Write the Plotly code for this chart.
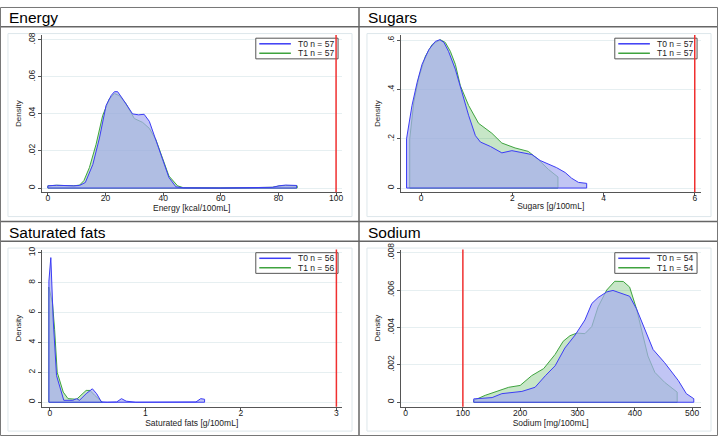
import plotly.graph_objects as go

# ---------------- data ----------------
panel_titles = ["Energy", "Sugars", "Saturated fats", "Sodium"]
x_titles = ["Energy [kcal/100mL]", "Sugars [g/100mL]", "Saturated fats [g/100mL]", "Sodium [mg/100mL]"]
legend_n = [57, 57, 56, 54]
limits = [100, 6, 3, 100]

energy_t0_x = [0, 3, 6, 9, 11, 13, 15.6, 17.9, 20.2, 22, 23.1, 24.2, 26, 29.4, 31.5, 33.4, 35.2, 36.9, 39.8, 42, 44.4, 47, 60, 74, 77.9, 80.2, 82.5, 86.3]
energy_t0_y = [0.0012, 0.0015, 0.0013, 0.0012, 0.0014, 0.003, 0.0127, 0.027, 0.0446, 0.05, 0.052, 0.052, 0.048, 0.040, 0.0395, 0.0398, 0.036, 0.0287, 0.0163, 0.0057, 0.0007, 0.0001, 0.0, 0.0001, 0.0004, 0.0012, 0.0016, 0.0014]
energy_t1_x = [0, 3, 6, 9, 11, 12.5, 14.4, 16.7, 19, 21.3, 23.1, 24.8, 27.1, 30, 32.9, 35.2, 37.5, 39.8, 42, 45, 47, 60, 74, 77.9, 80.2, 82.5, 86.5]
energy_t1_y = [0.0012, 0.0015, 0.0013, 0.0012, 0.0016, 0.004, 0.011, 0.0234, 0.039, 0.048, 0.051, 0.0499, 0.0455, 0.0375, 0.0354, 0.0322, 0.026, 0.016, 0.0065, 0.0012, 0.0002, 0.0, 0.0001, 0.0004, 0.0011, 0.0014, 0.0012]

sugars_t0_x = [-0.32, -0.2, -0.087, 0.02, 0.17, 0.31, 0.41, 0.5, 0.6, 0.75, 0.9, 1.04, 1.19, 1.3, 1.52, 1.77, 1.99, 2.21, 2.43, 2.61, 2.79, 2.97, 3.16, 3.3, 3.45, 3.63]
sugars_t0_y = [0.2, 0.336, 0.43, 0.503, 0.563, 0.596, 0.603, 0.592, 0.556, 0.483, 0.389, 0.296, 0.213, 0.187, 0.169, 0.143, 0.152, 0.143, 0.136, 0.112, 0.099, 0.083, 0.063, 0.04, 0.023, 0.019]
sugars_t1_x = [-0.25, -0.16, -0.05, 0.095, 0.24, 0.42, 0.53, 0.64, 0.75, 0.86, 1.04, 1.26, 1.55, 1.77, 2.06, 2.35, 2.57, 2.79, 3.0]
sugars_t1_y = [0.2, 0.35, 0.45, 0.536, 0.583, 0.603, 0.592, 0.556, 0.503, 0.416, 0.336, 0.263, 0.223, 0.183, 0.163, 0.149, 0.116, 0.076, 0.045]

satfat_t0_x = [-0.01, 0.01, 0.035, 0.07, 0.1, 0.146, 0.2, 0.24, 0.28, 0.31, 0.38, 0.445, 0.49, 0.54, 0.6, 0.70, 0.75, 0.8, 0.9, 1.2, 1.53, 1.58, 1.62]
satfat_t0_y = [8.1, 9.67, 5.5, 1.78, 1.1, 0.13, 0.13, 0.13, 0.24, 0.13, 0.57, 0.9, 0.57, 0.02, 0.0, 0.02, 0.24, 0.07, 0.0, 0.0, 0.02, 0.24, 0.2]
satfat_t1_x = [-0.01, 0.028, 0.05, 0.077, 0.1, 0.14, 0.19, 0.28, 0.38, 0.42, 0.47, 0.55]
satfat_t1_y = [7.7, 6.6, 4.85, 2.0, 1.45, 0.68, 0.24, 0.2, 0.79, 0.79, 0.46, 0.02]

sodium_t0_x = [119, 151, 168, 203, 226, 244, 261, 278, 296, 313, 325, 336, 351, 362, 377, 391, 403, 418, 432, 452, 476, 490, 503]
sodium_t0_y = [0.00018, 0.00025, 0.00046, 0.00058, 0.0008, 0.00142, 0.00195, 0.0029, 0.0036, 0.0044, 0.00528, 0.0056, 0.0059, 0.00598, 0.00584, 0.00567, 0.005, 0.00388, 0.00282, 0.00212, 0.00116, 0.00046, 0.00019]
sodium_t1_x = [119, 139, 162, 180, 200, 220, 241, 261, 275, 287, 299, 313, 325, 336, 351, 365, 380, 391, 403, 412, 423, 435, 452, 474]
sodium_t1_y = [0.0001, 0.00037, 0.00063, 0.0008, 0.0009, 0.00142, 0.0018, 0.00256, 0.00326, 0.00356, 0.0037, 0.00367, 0.00405, 0.0051, 0.006, 0.00647, 0.00646, 0.00616, 0.005, 0.00388, 0.00247, 0.0016, 0.00107, 0.00054]

x_tickvals = [[0, 20, 40, 60, 80, 100], [0, 2, 4, 6], [0, 1, 2, 3], [0, 100, 200, 300, 400, 500]]
y_tickvals = [[0, 0.02, 0.04, 0.06, 0.08], [0, 0.2, 0.4, 0.6], [0, 2, 4, 6, 8, 10], [0, 0.002, 0.004, 0.006, 0.008]]
y_ticktext = [["0", ".02", ".04", ".06", ".08"], ["0", ".2", ".4", ".6"], ["0", "2", "4", "6", "8", "10"], ["0", ".002", ".004", ".006", ".008"]]

series = [
    (energy_t0_x, energy_t0_y, energy_t1_x, energy_t1_y),
    (sugars_t0_x, sugars_t0_y, sugars_t1_x, sugars_t1_y),
    (satfat_t0_x, satfat_t0_y, satfat_t1_x, satfat_t1_y),
    (sodium_t0_x, sodium_t0_y, sodium_t1_x, sodium_t1_y),
]

# ---------------- presentation ----------------
W, H = 720, 436
FONT = "Liberation Sans, Arial, sans-serif"
T0_LINE, T1_LINE = "#3c3cf5", "#3fa33f"
T0_FILL, T1_FILL = "rgba(166,172,240,0.7)", "rgba(0,140,0,0.22)"
x_ranges = [[-2.076, 101.9], [-0.444, 6.127], [-0.0835, 3.054], [-8.18, 514.8]]
y_ranges = [[-0.00228, 0.08255], [-0.0172, 0.622], [-0.303, 10.21], [-0.000242, 0.008168]]
origins = [(0, 0), (360, 0), (0, 218), (360, 218)]

def px(x):
    return x / W

def py(y):
    return 1 - y / H

def closed(xs, ys):
    return [xs[0]] + list(xs) + [xs[-1], xs[0]], [0] + list(ys) + [0, 0]

fig = go.Figure()
shapes = []
red_lines = []
annotations = []
layout = {}

for i in range(4):
    ox, oy = origins[i]
    sfx = "" if i == 0 else str(i + 1)
    xa, ya = "x" + sfx, "y" + sfx
    t0x, t0y, t1x, t1y = series[i]
    cx, cy = closed(t1x, t1y)
    fig.add_trace(go.Scatter(x=cx, y=cy, xaxis=xa, yaxis=ya, mode="lines", fill="toself",
                             fillcolor=T1_FILL, line=dict(color=T1_LINE, width=1),
                             name=f"T1 n = {legend_n[i]}", showlegend=False, hoverinfo="skip"))
    cx, cy = closed(t0x, t0y)
    fig.add_trace(go.Scatter(x=cx, y=cy, xaxis=xa, yaxis=ya, mode="lines", fill="toself",
                             fillcolor=T0_FILL, line=dict(color=T0_LINE, width=1),
                             name=f"T0 n = {legend_n[i]}", showlegend=False, hoverinfo="skip"))

    layout["xaxis" + sfx] = dict(
        domain=[px(ox + 42), px(ox + 342.5)], range=x_ranges[i], anchor=ya,
        showline=True, linecolor="#555", linewidth=1, ticks="outside", ticklen=3,
        tickcolor="#555", tickvals=x_tickvals[i], showgrid=False, zeroline=False,
        tickfont=dict(size=8.5, color="#222", family=FONT), ticklabelstandoff=-5,
        title=dict(text=x_titles[i], font=dict(size=8.5, color="#222", family=FONT), standoff=0),
    )
    layout["yaxis" + sfx] = dict(
        domain=[py(oy + 188.3), py(oy + 28.5)], range=y_ranges[i], anchor=xa,
        showline=True, linecolor="#555", linewidth=1, ticks="outside", ticklen=3,
        tickcolor="#555", tickvals=y_tickvals[i], ticktext=y_ticktext[i], tickangle=-90,
        showgrid=True, gridcolor="#e6eff1", gridwidth=1, zeroline=False,
        tickfont=dict(size=8.5, color="#222", family=FONT), ticklabelstandoff=-1,
        title=dict(text="Density", font=dict(size=8, color="#222", family=FONT), standoff=4),
    )

    # red limit line (drawn on top of everything, as in the reference)
    red_lines.append(dict(type="line", xref=xa, yref=ya + " domain", x0=limits[i], x1=limits[i],
                          y0=0, y1=1, line=dict(color="#f03030", width=1.5), layer="above"))

    # panel header band and inner region
    shapes.append(dict(type="line", xref="paper", yref="paper", x0=px(ox), x1=px(ox + 360),
                       y0=py(oy + 20), y1=py(oy + 20), line=dict(color="#666", width=1.5)))
    shapes.append(dict(type="rect", xref="paper", yref="paper", x0=px(ox + 8), x1=px(ox + 353),
                       y0=py(oy + 213), y1=py(oy + 27), line=dict(color="#dde7eb", width=1), layer="below"))
    annotations.append(dict(text=panel_titles[i], xref="paper", yref="paper", x=px(ox + 7.5),
                            y=py(oy + 11), xanchor="left", yanchor="middle", showarrow=False,
                            font=dict(size=15.5, color="#000", family=FONT)))

    # legend box
    shapes.append(dict(type="rect", xref="paper", yref="paper", x0=px(ox + 256.5), x1=px(ox + 339),
                       y0=py(oy + 52.7), y1=py(oy + 31.7), line=dict(color="#555", width=1),
                       fillcolor="white", layer="above"))
    for k, (col, yy, lab) in enumerate([(T0_LINE, 37.4, "T0"), (T1_LINE, 47, "T1")]):
        shapes.append(dict(type="line", xref="paper", yref="paper", x0=px(ox + 260), x1=px(ox + 291.7),
                           y0=py(oy + yy), y1=py(oy + yy), line=dict(color=col, width=1.5), layer="above"))
        annotations.append(dict(text=f"{lab} n = {legend_n[i]}", xref="paper", yref="paper",
                                x=px(ox + 297), y=py(oy + yy), xanchor="left", yanchor="middle",
                                showarrow=False, font=dict(size=8.5, color="#222", family=FONT)))

shapes.extend(red_lines)

# panel dividers and outer frame
shapes.append(dict(type="line", xref="paper", yref="paper", x0=px(360), x1=px(360), y0=0, y1=1,
                   line=dict(color="#666", width=1.5)))
shapes.append(dict(type="line", xref="paper", yref="paper", x0=0, x1=1, y0=py(218), y1=py(218),
                   line=dict(color="#666", width=1.5)))
shapes.append(dict(type="rect", xref="paper", yref="paper", x0=px(0.5), x1=px(719.5), y0=py(435.5),
                   y1=py(0.5), line=dict(color="#777", width=1)))

fig.update_layout(
    width=W, height=H, margin=dict(l=0, r=0, t=0, b=0),
    paper_bgcolor="white", plot_bgcolor="white", showlegend=False,
    font=dict(family=FONT), shapes=shapes, annotations=annotations, **layout,
)

fig.write_html("out.html", config={"displayModeBar": False},
               post_script="document.body.style.margin='0px';")
